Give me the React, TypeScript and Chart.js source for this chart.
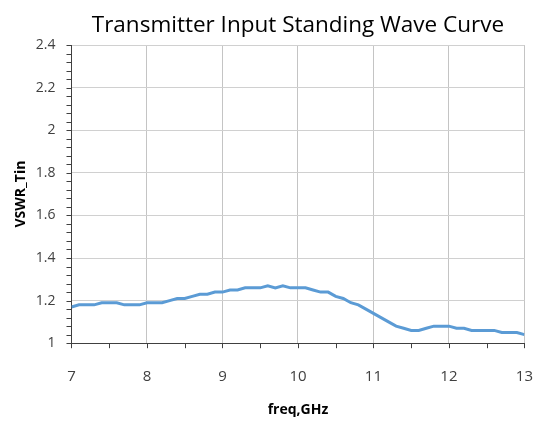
import React, { useEffect, useRef } from "react";
import { Chart, registerables } from "chart.js";

Chart.register(...registerables);

const freqGHz: number[] = [
  7.0, 7.1, 7.2, 7.3, 7.4, 7.5, 7.6, 7.7, 7.8, 7.9,
  8.0, 8.1, 8.2, 8.3, 8.4, 8.5, 8.6, 8.7, 8.8, 8.9,
  9.0, 9.1, 9.2, 9.3, 9.4, 9.5, 9.6, 9.7, 9.8, 9.9,
  10.0, 10.1, 10.2, 10.3, 10.4, 10.5, 10.6, 10.7, 10.8, 10.9,
  11.0, 11.1, 11.2, 11.3, 11.4, 11.5, 11.6, 11.7, 11.8, 11.9,
  12.0, 12.1, 12.2, 12.3, 12.4, 12.5, 12.6, 12.7, 12.8, 12.9,
  13.0,
];

const vswrTin: number[] = [
  1.17, 1.18, 1.18, 1.18, 1.19, 1.19, 1.19, 1.18, 1.18, 1.18,
  1.19, 1.19, 1.19, 1.20, 1.21, 1.21, 1.22, 1.23, 1.23, 1.24,
  1.24, 1.25, 1.25, 1.26, 1.26, 1.26, 1.27, 1.26, 1.27, 1.26,
  1.26, 1.26, 1.25, 1.24, 1.24, 1.22, 1.21, 1.19, 1.18, 1.16,
  1.14, 1.12, 1.10, 1.08, 1.07, 1.06, 1.06, 1.07, 1.08, 1.08,
  1.08, 1.07, 1.07, 1.06, 1.06, 1.06, 1.06, 1.05, 1.05, 1.05,
  1.04,
];

const xMin = 7;
const xMax = 13;
const xStep = 1;
const xMinorStep = 0.5;
const yMin = 1;
const yMax = 2.4;
const yStep = 0.2;
const yMinorStep = 0.04;

const titleText = "Transmitter Input Standing Wave Curve";
const xTitle = "freq,GHz";
const yTitle = "VSWR_Tin";

const tickMarks = {
  id: "tickMarks",
  afterDraw(chart: any) {
    const ctx = chart.ctx;
    const xs = chart.scales.x;
    const ys = chart.scales.y;
    ctx.save();
    ctx.strokeStyle = "#404040";
    ctx.lineWidth = 1;
    const nY = Math.round((yMax - yMin) / yMinorStep);
    for (let i = 0; i <= nY; i++) {
      const v = yMin + i * yMinorStep;
      const py = Math.round(ys.getPixelForValue(v)) + 0.5;
      ctx.beginPath();
      ctx.moveTo(xs.left - 5, py);
      ctx.lineTo(xs.left, py);
      ctx.stroke();
    }
    const nX = Math.round((xMax - xMin) / xMinorStep);
    for (let i = 0; i <= nX; i++) {
      const v = xMin + i * xMinorStep;
      const px = Math.round(xs.getPixelForValue(v)) + 0.5;
      ctx.beginPath();
      ctx.moveTo(px, ys.bottom);
      ctx.lineTo(px, ys.bottom + 5);
      ctx.stroke();
    }
    ctx.restore();
  },
};

export default function App() {
  const ref = useRef<HTMLCanvasElement | null>(null);
  useEffect(() => {
    if (!ref.current) return;
    const chart = new Chart(ref.current, {
      type: "line",
      data: {
        datasets: [
          {
            label: yTitle,
            data: freqGHz.map((f, i) => ({ x: f, y: vswrTin[i] })),
            borderColor: "#5B9BD5",
            borderWidth: 3,
            pointRadius: 0,
            tension: 0,
            fill: false,
          },
        ],
      },
      options: {
        animation: false,
        responsive: false,
        maintainAspectRatio: false,
        layout: { padding: { left: 4, right: 8, top: 4, bottom: 4 } },
        plugins: {
          legend: { display: false },
          tooltip: { enabled: false },
          title: {
            display: true,
            text: titleText,
            fullSize: false,
            color: "#000000",
            font: { family: "'Open Sans', sans-serif", size: 22.5, weight: "normal" },
            padding: { top: 8, bottom: 6 },
          },
        },
        scales: {
          x: {
            type: "linear",
            min: xMin,
            max: xMax,
            ticks: {
              stepSize: xStep,
              color: "#404040",
              font: { family: "'Open Sans', sans-serif", size: 15 },
              padding: 0,
            },
            grid: {
              color: "#c4c4c4",
              tickColor: "rgba(0,0,0,0)",
              tickLength: 25,
            },
            border: { color: "#404040", width: 1 },
            title: {
              display: true,
              text: xTitle,
              color: "#000000",
              font: { family: "'Open Sans', sans-serif", size: 14, weight: "bold" },
              padding: { top: 15, bottom: 4 },
            },
          },
          y: {
            type: "linear",
            min: yMin,
            max: yMax,
            ticks: {
              stepSize: yStep,
              color: "#404040",
              font: { family: "'Open Sans', sans-serif", size: 14 },
              padding: 0,
              callback: (value: any) => String(parseFloat(Number(value).toFixed(2))),
            },
            grid: {
              color: "#d0d0d0",
              tickColor: "rgba(0,0,0,0)",
              tickLength: 16,
            },
            border: { color: "#404040", width: 1 },
            title: {
              display: true,
              text: yTitle,
              color: "#000000",
              font: { family: "'Open Sans', sans-serif", size: 14, weight: "bold" },
              padding: { top: 9, bottom: 6 },
            },
          },
        },
      },
      plugins: [tickMarks],
    });
    return () => chart.destroy();
  }, []);
  return (
    <div style={{ position: "absolute", left: 0, top: 0, width: 533, height: 426, background: "#fff" }}>
      <canvas ref={ref} width={533} height={426} style={{ display: "block", width: 533, height: 426 }} />
    </div>
  );
}
